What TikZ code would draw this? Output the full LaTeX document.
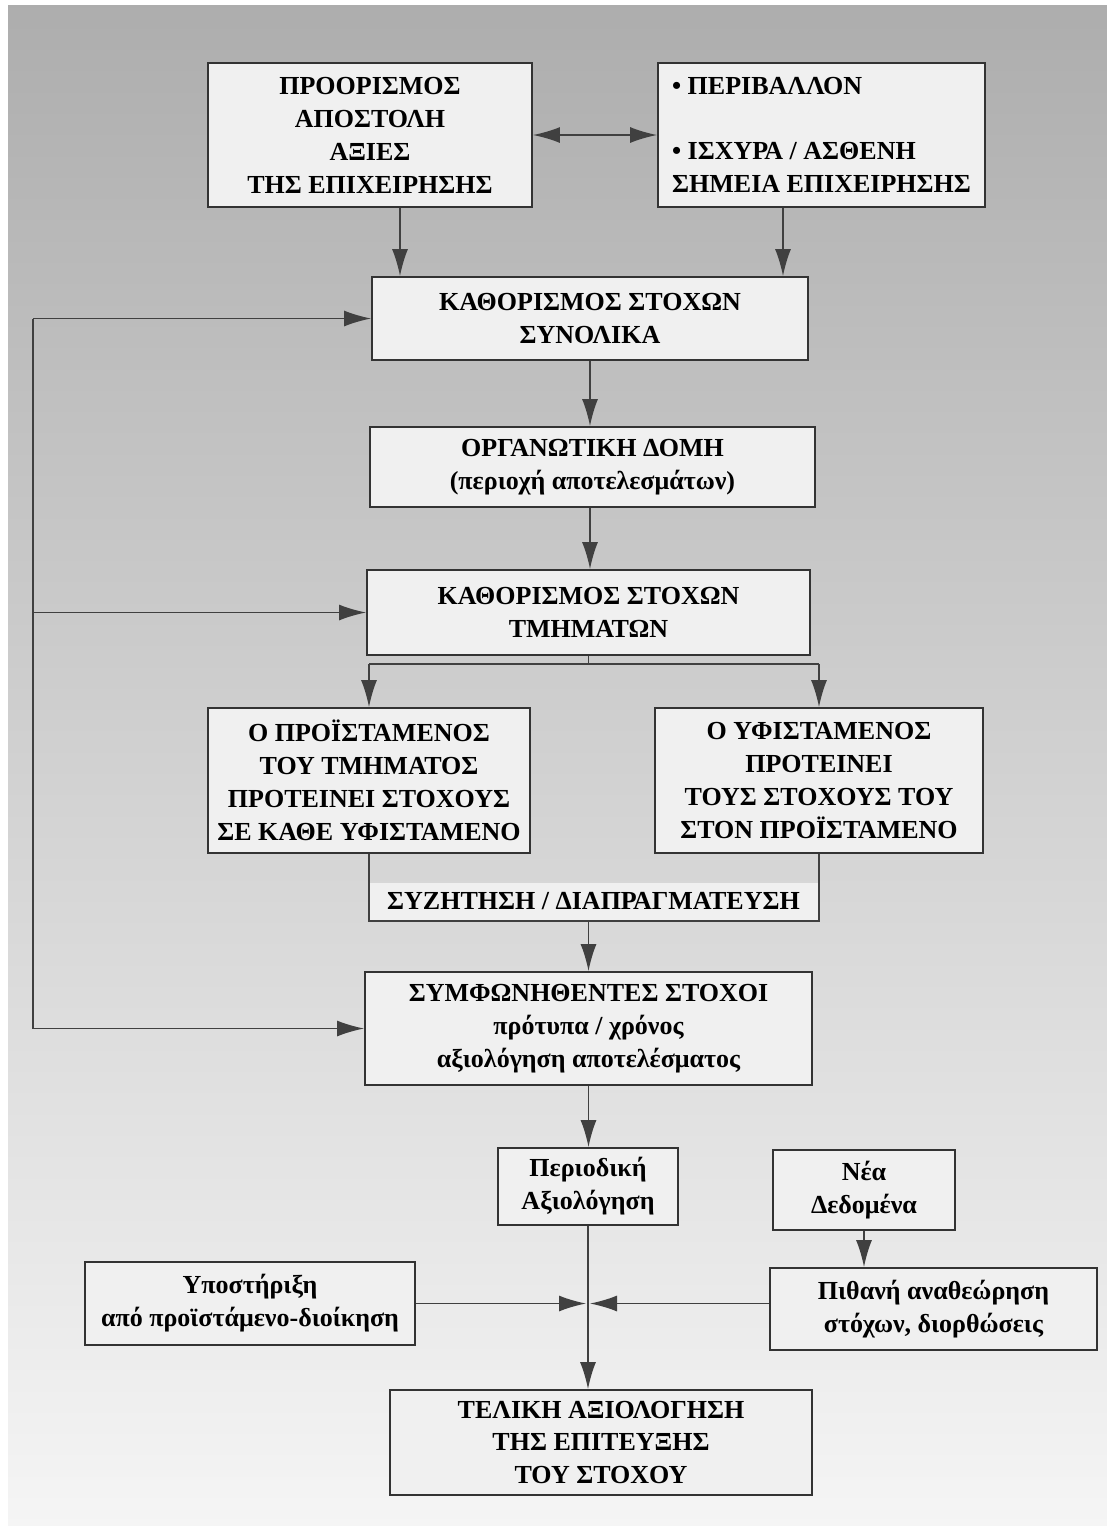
\documentclass[tikz,border=0pt]{standalone}
\usepackage{fontspec}
\setmainfont{Liberation Serif}
\usepackage{tikz}
\usetikzlibrary{arrows.meta,positioning}

\begin{document}
\begin{tikzpicture}[x=1pt,y=-1pt,
  box/.style={draw=black!80,line width=1.9pt,fill=black!6,inner sep=0pt,align=center,
    font=\fontsize{26}{33}\selectfont\bfseries},
  line/.style={draw=black!75,line width=1.5pt},
  arr/.style={line,-{Latex[length=27pt,width=16pt]}}]

\useasboundingbox (0,0) rectangle (1107,1535);
\fill[white] (0,0) rectangle (1107,1535);
\shade[top color=black!32,bottom color=black!4] (8,5) rectangle (1107,1525);

\node[box,minimum width=324pt,minimum height=144pt] (1) at (370,135)
  {ΠΡΟΟΡΙΣΜΟΣ\\ΑΠΟΣΤΟΛΗ\\ΑΞΙΕΣ\\ΤΗΣ ΕΠΙΧΕΙΡΗΣΗΣ};
\node[box,minimum width=327pt,minimum height=144pt,align=left] (2) at (821.5,135)
  {• ΠΕΡΙΒΑΛΛΟΝ\\[32pt]• ΙΣΧΥΡΑ / ΑΣΘΕΝΗ\\ΣΗΜΕΙΑ ΕΠΙΧΕΙΡΗΣΗΣ};
\node[box,minimum width=436pt,minimum height=83pt] (3) at (590,318.5)
  {ΚΑΘΟΡΙΣΜΟΣ ΣΤΟΧΩΝ\\ΣΥΝΟΛΙΚΑ};
\node[box,minimum width=445pt,minimum height=80pt] (4) at (592.5,467)
  {ΟΡΓΑΝΩΤΙΚΗ ΔΟΜΗ\\(περιοχή αποτελεσμάτων)};
\node[box,minimum width=443pt,minimum height=85pt] (5) at (588.5,612.5)
  {ΚΑΘΟΡΙΣΜΟΣ ΣΤΟΧΩΝ\\ΤΜΗΜΑΤΩΝ};
\node[box,minimum width=322pt,minimum height=145pt] (6) at (369,780.5)
  {Ο ΠΡΟΪΣΤΑΜΕΝΟΣ\\ΤΟΥ ΤΜΗΜΑΤΟΣ\\ΠΡΟΤΕΙΝΕΙ ΣΤΟΧΟΥΣ\\ΣΕ ΚΑΘΕ ΥΦΙΣΤΑΜΕΝΟ};
\node[box,minimum width=328pt,minimum height=145pt] (7) at (819,780.5)
  {Ο ΥΦΙΣΤΑΜΕΝΟΣ\\ΠΡΟΤΕΙΝΕΙ\\ΤΟΥΣ ΣΤΟΧΟΥΣ ΤΟΥ\\ΣΤΟΝ ΠΡΟΪΣΤΑΜΕΝΟ};
\node[box,draw=none,minimum width=450pt,minimum height=37pt] (8) at (593.5,901.5)
  {ΣΥΖΗΤΗΣΗ / ΔΙΑΠΡΑΓΜΑΤΕΥΣΗ};
\node[box,minimum width=447pt,minimum height=113pt] (9) at (588.5,1028.5)
  {ΣΥΜΦΩΝΗΘΕΝΤΕΣ ΣΤΟΧΟΙ\\πρότυπα / χρόνος\\αξιολόγηση αποτελέσματος};
\node[box,minimum width=180pt,minimum height=77pt] (10) at (588,1186.5)
  {Περιοδική\\Αξιολόγηση};
\node[box,minimum width=182pt,minimum height=80pt] (11) at (864,1190)
  {Νέα\\Δεδομένα};
\node[box,minimum width=330pt,minimum height=83pt] (12) at (250,1303.5)
  {Υποστήριξη\\από προϊστάμενο-διοίκηση};
\node[box,minimum width=327pt,minimum height=82pt] (13) at (933.5,1309)
  {Πιθανή αναθεώρηση\\στόχων, διορθώσεις};
\node[box,minimum width=422pt,minimum height=105pt] (14) at (601,1442.5)
  {ΤΕΛΙΚΗ ΑΞΙΟΛΟΓΗΣΗ\\ΤΗΣ ΕΠΙΤΕΥΞΗΣ\\ΤΟΥ ΣΤΟΧΟΥ};

\coordinate (fb) at (33,0);

\draw[arr,{Latex[length=27pt,width=16pt]}-{Latex[length=27pt,width=16pt]}] (1) -- (2);
\draw[arr] (1.south -| 400,0) -- (3.north -| 400,0);
\draw[arr] (2.south -| 783,0) -- (3.north -| 783,0);
\draw[arr] (3.south) -- (3.south |- 4.north);
\draw[arr] (4.south -| 3.south) -- (5.north -| 3.south);
\draw[line] (5.south) -- ++(0,8) coordinate (sp);
\draw[line] (sp -| 6) -- (sp -| 7);
\draw[arr] (sp -| 6) -- (6.north);
\draw[arr] (sp -| 7) -- (7.north);
\draw[line] (6.south) -- (6.south |- 8.south) -- (7.south |- 8.south) -- (7.south);
\draw[arr] (8.south -| 9.north) -- (9.north);
\draw[arr] (9.south) -- (9.south |- 10.north);
\draw[arr] (11.south) -- (11.south |- 13.north);
\draw[arr] (10.south) -- (10.south |- 14.north);
\draw[arr,shorten >=2pt] (12.east) -- (12.east -| 10.south);
\draw[arr,shorten >=2pt] (13.west |- 12.east) -- (12.east -| 10.south);

% feedback line on the left
\draw[line] (3.west -| fb) -- (9.west -| fb);
\draw[arr] (3.west -| fb) -- (3.west);
\draw[arr] (5.west -| fb) -- (5.west);
\draw[arr] (9.west -| fb) -- (9.west);

\end{tikzpicture}
\end{document}
